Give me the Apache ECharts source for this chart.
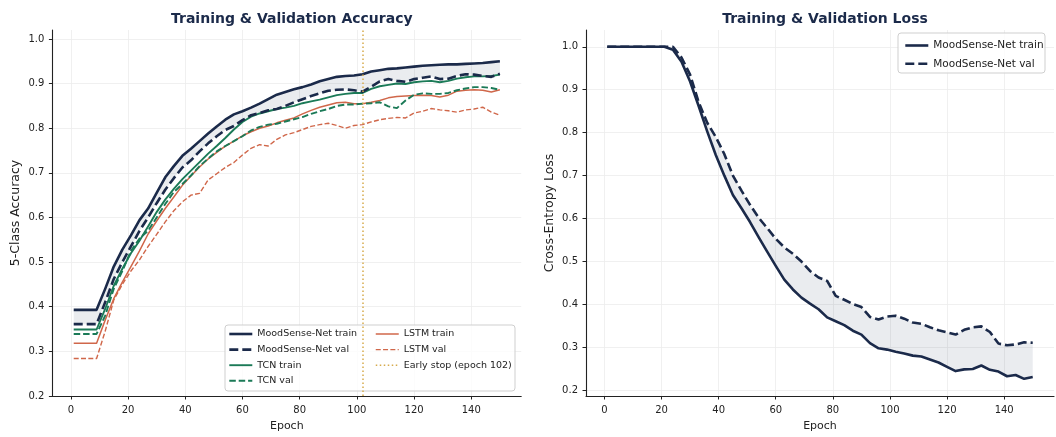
<!DOCTYPE html>
<html>
<head>
<meta charset="utf-8">
<script src="https://cdn.jsdelivr.net/npm/echarts@6/dist/echarts.min.js"></script>
<style>
  html, body { margin: 0; padding: 0; background: #fff; }
  #chart { width: 1056px; height: 437px; }
</style>
</head>
<body>
<div id="chart"></div>
<script>
// epochs sampled from the curves
const epochs = [1, 3, 6, 9, 12, 15, 18, 21, 24, 27,
  30, 33, 36, 39, 42, 45, 48, 51, 54, 57,
  60, 63, 66, 69, 72, 75, 78, 81, 84, 87,
  90, 93, 96, 99, 102, 105, 108, 111, 114, 117,
  120, 123, 126, 129, 132, 135, 138, 141, 144, 147,
  150];

const msTrainAcc = [0.393, 0.393, 0.393, 0.393, 0.44, 0.49, 0.528, 0.56, 0.594, 0.62,
  0.655, 0.69, 0.715, 0.738, 0.754, 0.771, 0.788, 0.804, 0.819, 0.831,
  0.838, 0.846, 0.855, 0.865, 0.875, 0.881, 0.887, 0.892, 0.898, 0.905,
  0.91, 0.915, 0.917, 0.918, 0.921, 0.927, 0.93, 0.933, 0.934, 0.936,
  0.938, 0.94, 0.941, 0.942, 0.943, 0.943, 0.944, 0.945, 0.946, 0.948,
  0.95];
const msValAcc = [0.361, 0.361, 0.361, 0.361, 0.41, 0.462, 0.5, 0.535, 0.57, 0.6,
  0.632, 0.662, 0.688, 0.712, 0.728, 0.748, 0.766, 0.782, 0.796, 0.805,
  0.818, 0.829, 0.834, 0.84, 0.843, 0.85, 0.858, 0.865, 0.872, 0.878,
  0.884, 0.886, 0.887, 0.885, 0.882, 0.893, 0.905, 0.91, 0.906, 0.904,
  0.91, 0.913, 0.916, 0.91, 0.911, 0.917, 0.921, 0.92, 0.917, 0.915,
  0.922];
const tcnTrainAcc = [0.349, 0.349, 0.349, 0.349, 0.395, 0.447, 0.485, 0.52, 0.548, 0.58,
  0.612, 0.64, 0.664, 0.686, 0.705, 0.724, 0.743, 0.76, 0.778, 0.797,
  0.814, 0.826, 0.833, 0.838, 0.843, 0.846, 0.85, 0.856, 0.86, 0.864,
  0.869, 0.874, 0.877, 0.879, 0.879, 0.888, 0.894, 0.897, 0.9, 0.899,
  0.903, 0.905, 0.906, 0.903, 0.906, 0.911, 0.914, 0.916, 0.916, 0.917,
  0.92];
const tcnValAcc = [0.339, 0.339, 0.339, 0.339, 0.38, 0.44, 0.48, 0.525, 0.553, 0.57,
  0.6, 0.63, 0.657, 0.675, 0.694, 0.715, 0.732, 0.748, 0.76, 0.771,
  0.782, 0.795, 0.803, 0.808, 0.81, 0.815, 0.82, 0.825, 0.832, 0.838,
  0.843, 0.85, 0.853, 0.853, 0.855, 0.856, 0.858, 0.849, 0.845, 0.862,
  0.875, 0.878, 0.877, 0.877, 0.879, 0.885, 0.889, 0.892, 0.892, 0.89,
  0.886];
const lstmTrainAcc = [0.318, 0.318, 0.318, 0.318, 0.37, 0.418, 0.455, 0.49, 0.525, 0.563,
  0.592, 0.62, 0.646, 0.672, 0.693, 0.713, 0.731, 0.746, 0.76, 0.771,
  0.783, 0.792, 0.8, 0.805, 0.812, 0.818, 0.823, 0.832, 0.84, 0.847,
  0.852, 0.857, 0.858, 0.855, 0.855, 0.858, 0.862, 0.868, 0.871, 0.872,
  0.873, 0.874, 0.873, 0.87, 0.874, 0.883, 0.885, 0.886, 0.885, 0.881,
  0.886];
const lstmValAcc = [0.284, 0.284, 0.284, 0.284, 0.345, 0.415, 0.45, 0.48, 0.505, 0.535,
  0.562, 0.59, 0.615, 0.635, 0.65, 0.654, 0.684, 0.698, 0.712, 0.723,
  0.74, 0.755, 0.763, 0.76, 0.775, 0.785, 0.79, 0.797, 0.804, 0.808,
  0.811, 0.806, 0.8, 0.806, 0.808, 0.814, 0.819, 0.822, 0.824, 0.823,
  0.834, 0.838, 0.844, 0.841, 0.839, 0.836, 0.841, 0.843, 0.847, 0.836,
  0.829];

const msTrainLoss = [1, 1, 1, 1, 1, 1, 1, 1, 0.993, 0.965,
  0.919, 0.862, 0.803, 0.748, 0.7, 0.655, 0.624, 0.592, 0.557, 0.523,
  0.49, 0.458, 0.435, 0.416, 0.402, 0.389, 0.37, 0.361, 0.352, 0.339,
  0.33, 0.31, 0.298, 0.295, 0.29, 0.286, 0.281, 0.279, 0.272, 0.265,
  0.255, 0.245, 0.249, 0.25, 0.258, 0.248, 0.244, 0.233, 0.236, 0.227,
  0.231];
const msValLoss = [1, 1, 1, 1, 1, 1, 1, 1, 1, 0.975,
  0.935, 0.871, 0.823, 0.79, 0.75, 0.7, 0.665, 0.632, 0.602, 0.578,
  0.553, 0.533, 0.518, 0.5, 0.478, 0.463, 0.455, 0.42, 0.411, 0.401,
  0.394, 0.371, 0.365, 0.372, 0.374, 0.367, 0.358, 0.355, 0.347, 0.34,
  0.335, 0.33, 0.341, 0.347, 0.349, 0.336, 0.309, 0.305, 0.307, 0.312,
  0.311];

const earlyStopEpoch = 102;
const xTicks = [0, 20, 40, 60, 80, 100, 120, 140];
const yTicks = [0.2, 0.3, 0.4, 0.5, 0.6, 0.7, 0.8, 0.9, 1.0];

const FONT = 'DejaVu Sans';
const NAVY = '#1b2a4a';
const GREEN = '#1b7a57';
const ORANGE = '#d0674a';
const GOLD = '#d6aa4c';
const INK = '#222222';

const chart = echarts.init(document.getElementById('chart'), null, { renderer: 'canvas' });

function lineSeries(name, values, idx, color, width, dash, z) {
  return {
    name: name,
    type: 'line',
    xAxisIndex: idx,
    yAxisIndex: idx,
    data: epochs.map((e, i) => [e, values[i]]),
    symbol: 'none',
    showSymbol: false,
    silent: true,
    z: z,
    lineStyle: { color: color, width: width, type: dash || 'solid', join: 'round' },
    itemStyle: { color: color },
    emphasis: { disabled: true }
  };
}

// shaded gap between train and val curves
function bandSeries(idx, upper, lower) {
  return {
    type: 'custom',
    xAxisIndex: idx,
    yAxisIndex: idx,
    silent: true,
    z: 1,
    data: epochs.map((e, i) => [e, lower[i], upper[i]]),
    renderItem: (params, api) => {
      if (params.dataIndex !== 0) return;
      const top = epochs.map((e, i) => api.coord([e, upper[i]]));
      const bottom = epochs.map((e, i) => api.coord([e, lower[i]])).reverse();
      return {
        type: 'polygon',
        shape: { points: top.concat(bottom) },
        style: { fill: 'rgba(27,42,74,0.09)' }
      };
    }
  };
}

function xAxis(idx) {
  return {
    type: 'value',
    gridIndex: idx,
    min: -6.45,
    max: 157.45,
    name: 'Epoch',
    nameLocation: 'middle',
    nameGap: 25,
    nameTextStyle: { fontSize: 11, color: INK, fontFamily: FONT },
    axisLine: { show: true, onZero: false, lineStyle: { color: INK, width: 1.1 } },
    axisTick: { show: true, length: 3.5, customValues: xTicks, lineStyle: { color: INK, width: 1 } },
    axisLabel: { customValues: xTicks, fontSize: 10, color: INK, margin: 9, fontFamily: FONT },
    splitLine: { show: true, lineStyle: { color: '#ececec', width: 0.8 } }
  };
}

function yAxis(idx, min, max, name) {
  return {
    type: 'value',
    gridIndex: idx,
    min: min,
    max: max,
    name: name,
    nameLocation: 'middle',
    nameGap: 30,
    nameTextStyle: { fontSize: 12.5, color: INK, fontFamily: FONT },
    axisLine: { show: true, onZero: false, lineStyle: { color: INK, width: 1.1 } },
    axisTick: { show: true, length: 3.5, customValues: yTicks, lineStyle: { color: INK, width: 1 } },
    axisLabel: {
      customValues: yTicks, fontSize: 10, color: INK, margin: 8, fontFamily: FONT,
      formatter: (v) => v.toFixed(1)
    },
    splitLine: { show: true, lineStyle: { color: '#ececec', width: 0.8 } }
  };
}

const legendBase = {
  orient: 'vertical',
  itemWidth: 23,
  itemHeight: 10,
  padding: 0,
  selectedMode: false,
  itemStyle: { opacity: 0 },
  lineStyle: { width: 'inherit' },
  textStyle: { fontSize: 9.5, color: INK, fontFamily: FONT, lineHeight: 10 }
};

const earlyStopName = 'Early stop (epoch ' + earlyStopEpoch + ')';

chart.setOption({
  animation: false,
  backgroundColor: '#ffffff',
  title: [
    {
      text: 'Training & Validation Accuracy', left: 286.8, top: 7, textAlign: 'center',
      textStyle: { fontSize: 14, fontWeight: 'bold', color: NAVY, fontFamily: FONT }
    },
    {
      text: 'Training & Validation Loss', left: 820, top: 7, textAlign: 'center',
      textStyle: { fontSize: 14, fontWeight: 'bold', color: NAVY, fontFamily: FONT }
    }
  ],
  grid: [
    { left: 52.4, right: 1056 - 521.2, top: 30, bottom: 41 },
    { left: 586, right: 2, top: 30, bottom: 41 }
  ],
  xAxis: [xAxis(0), xAxis(1)],
  yAxis: [
    yAxis(0, 0.2, 1.02, '5-Class Accuracy'),
    yAxis(1, 0.187, 1.039, 'Cross-Entropy Loss')
  ],
  legend: [
    Object.assign({}, legendBase, {
      left: 228, top: 329, itemGap: 5.6,
      data: ['MoodSense-Net train', 'MoodSense-Net val', 'TCN train', 'TCN val']
    }),
    Object.assign({}, legendBase, {
      left: 375, top: 329, itemGap: 5.6,
      data: ['LSTM train', 'LSTM val', earlyStopName]
    }),
    Object.assign({}, legendBase, {
      left: 904, top: 40, itemGap: 7.3,
      textStyle: { fontSize: 10.5, color: INK, fontFamily: FONT, lineHeight: 10 },
      data: ['MoodSense-Net train', 'MoodSense-Net val']
    })
  ],
  graphic: [
    {
      type: 'rect', z: 3, silent: true,
      shape: { x: 225, y: 325, width: 290, height: 66, r: 3 },
      style: { fill: 'rgba(255,255,255,0.8)', stroke: '#cfcfcf', lineWidth: 1 }
    },
    {
      type: 'rect', z: 3, silent: true,
      shape: { x: 898, y: 33, width: 147, height: 40, r: 3 },
      style: { fill: 'rgba(255,255,255,0.8)', stroke: '#cfcfcf', lineWidth: 1 }
    }
  ],
  series: [
    bandSeries(0, msTrainAcc, msValAcc),
    lineSeries('LSTM val', lstmValAcc, 0, ORANGE, 1.4, [5, 2.3], 2),
    lineSeries('LSTM train', lstmTrainAcc, 0, ORANGE, 1.5, 'solid', 2),
    lineSeries('TCN val', tcnValAcc, 0, GREEN, 1.9, [6.5, 2.9], 2),
    lineSeries('TCN train', tcnTrainAcc, 0, GREEN, 1.9, 'solid', 2),
    lineSeries('MoodSense-Net val', msValAcc, 0, NAVY, 2.6, [9, 4], 2),
    lineSeries('MoodSense-Net train', msTrainAcc, 0, NAVY, 2.6, 'solid', 2),
    {
      name: earlyStopName,
      type: 'line',
      xAxisIndex: 0,
      yAxisIndex: 0,
      data: [],
      symbol: 'none',
      silent: true,
      lineStyle: { color: GOLD, width: 1.5, type: [1.5, 2.5] },
      itemStyle: { color: GOLD },
      markLine: {
        silent: true,
        symbol: ['none', 'none'],
        label: { show: false },
        lineStyle: { color: GOLD, width: 1.5, type: [1.5, 2.5] },
        data: [{ xAxis: earlyStopEpoch }]
      }
    },
    bandSeries(1, msValLoss, msTrainLoss),
    lineSeries('MoodSense-Net val', msValLoss, 1, NAVY, 2.6, [9, 4], 2),
    lineSeries('MoodSense-Net train', msTrainLoss, 1, NAVY, 2.6, 'solid', 2)
  ]
});
</script>
</body>
</html>
